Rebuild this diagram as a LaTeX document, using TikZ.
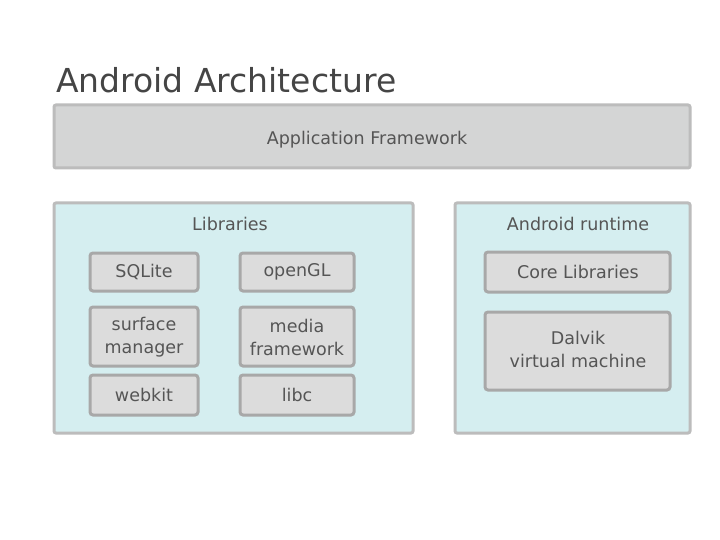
\documentclass[tikz,border=0pt]{standalone}
\usepackage{fontspec}
\setmainfont{DejaVu Sans}
\definecolor{outerborder}{HTML}{BCBCBC}
\definecolor{cyanfill}{HTML}{D5EEF0}
\definecolor{innerborder}{HTML}{A8A8A8}
\definecolor{innerfill}{HTML}{DCDCDC}
\definecolor{appfill}{HTML}{D4D5D5}
\definecolor{txt}{HTML}{555555}
\definecolor{titletxt}{HTML}{454545}
\begin{document}
\begin{tikzpicture}[x=1pt,y=-1pt,
  outerbox/.style={draw=outerborder,line width=3pt,rounded corners=2pt},
  innerbox/.style={draw=innerborder,fill=innerfill,line width=3pt,rounded corners=3pt},
  lbl/.style={text=txt,font=\fontsize{17.5}{23}\selectfont,align=center},
  grp/.style={text=txt,font=\fontsize{17.5}{23}\selectfont}]
\useasboundingbox (0,0) rectangle (720,540);
\node[anchor=west,text=titletxt,font=\fontsize{33}{36}\selectfont,inner sep=0pt] (title) at (56,80) {Android Architecture};
% application framework
\draw[outerbox,fill=appfill] (54,105) rectangle (690,168);
\node[lbl] (app) at (367,140) {Application Framework};
% libraries
\draw[outerbox,fill=cyanfill] (54,203) rectangle (413,433);
\node[grp] (libs) at (230,224) {Libraries};
\draw[innerbox] (90,253) rectangle (198,291);
\node[lbl] (sqlite) at (144,272) {SQLite};
\draw[innerbox] (240,253) rectangle (354,291);
\node[lbl] (opengl) at (297,272) {openGL};
\draw[innerbox] (90,307) rectangle (198,366);
\node[lbl] (surface) at (144,337) {surface\\manager};
\draw[innerbox] (240,307) rectangle (354,366);
\node[lbl] (media) at (297,337) {media\\framework};
\draw[innerbox] (90,375) rectangle (198,415);
\node[lbl] (webkit) at (144,395) {webkit};
\draw[innerbox] (240,375) rectangle (354,415);
\node[lbl] (libc) at (297,395) {libc};
% android runtime
\draw[outerbox,fill=cyanfill] (455,203) rectangle (690,433);
\node[grp] (runtime) at (578,224) {Android runtime};
\draw[innerbox] (485,252) rectangle (670,292);
\node[lbl] (core) at (578,272) {Core Libraries};
\draw[innerbox] (485,312) rectangle (670,390);
\node[lbl] (dalvik) at (578,349) {Dalvik\\virtual machine};
\end{tikzpicture}
\end{document}
